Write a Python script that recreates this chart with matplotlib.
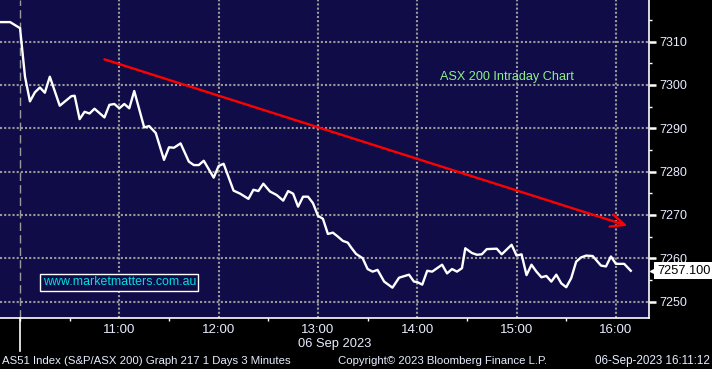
import numpy as np
import matplotlib.pyplot as plt
import matplotlib.transforms as mtransforms
from matplotlib.ticker import MultipleLocator

plt.rcParams['font.family'] = ['Liberation Sans', 'DejaVu Sans']

# AS51 intraday, 3 minute bars: minutes after the 10:00 open and last price
mins = [-12, -6, 0, 3, 6, 9, 12, 15, 18, 24, 31, 33, 36, 39, 42, 45, 51, 54, 57, 60,
        63, 66, 69, 75, 78, 82, 87, 90, 93, 97, 102, 105, 108, 111, 117, 120, 123,
        129, 133, 138, 141, 144, 147, 151, 155, 159, 162, 165, 168, 171, 174, 177,
        180, 183, 186, 189, 192, 195, 198, 200, 203, 207, 210, 213, 216, 220, 225,
        229, 235, 238, 240, 243, 246, 249, 255, 258, 261, 264, 267, 269, 273, 276,
        279, 282, 288, 291, 297, 300, 303, 306, 309, 312, 315, 318, 321, 324, 327,
        330, 333, 336, 339, 342, 346, 351, 354, 357, 360, 365, 369]
price = [7314.5, 7314.5, 7313.1, 7301.9, 7296.2, 7298.3, 7299.4, 7298.2, 7301.9, 7295.2,
         7297.4, 7297.5, 7292.1, 7293.8, 7293.4, 7294.5, 7292.5, 7295.4, 7295.6, 7294.6,
         7295.6, 7294.6, 7298.6, 7290.2, 7290.5, 7288.9, 7282.7, 7285.6, 7285.5, 7286.5,
         7282.3, 7281.5, 7281.5, 7282.5, 7278.6, 7281.3, 7281.8, 7275.6, 7274.9, 7273.7,
         7275.8, 7275.5, 7277.2, 7275.4, 7274.6, 7273.3, 7275.5, 7274.9, 7271.9, 7274.2,
         7274.2, 7272.7, 7269.8, 7269.1, 7265.6, 7265.9, 7265.0, 7264.0, 7263.6, 7262.5,
         7261.0, 7260.0, 7257.5, 7256.9, 7257.3, 7254.6, 7253.2, 7255.5, 7256.2, 7254.6,
         7254.5, 7253.9, 7257.1, 7256.9, 7258.5, 7256.5, 7257.5, 7256.9, 7257.7, 7262.3,
         7261.2, 7260.8, 7260.9, 7262.1, 7262.2, 7260.9, 7263.1, 7260.6, 7260.9, 7256.1,
         7258.5, 7256.9, 7255.6, 7255.9, 7254.6, 7256.2, 7254.2, 7253.3, 7255.4, 7259.2,
         7260.2, 7260.6, 7260.5, 7258.3, 7258.1, 7260.4, 7258.7, 7258.7, 7257.1]
last_price = 7257.1

hour_pos = [60, 120, 180, 240, 300, 360]
hour_labels = ['11:00', '12:00', '13:00', '14:00', '15:00', '16:00']
y_ticks = [7250, 7260, 7270, 7280, 7290, 7300, 7310]

trend_start = (51, 7305.9)
trend_end = (367, 7267.5)

bg = '#100c48'
txt = '#e8ecff'
grid_c = '#9a9a9a'

fig = plt.figure(figsize=(7.12, 3.69), dpi=100, facecolor='black')
ax = fig.add_axes([0, 51/369, 649/712, 318/369])
ax.set_facecolor(bg)
ax.set_xlim(-12.1, 380)
ax.set_ylim(7246.2, 7319.6)

# grid
ax.set_axisbelow(True)
ax.set_xticks(hour_pos)
ax.set_xticklabels(hour_labels)
ax.xaxis.set_minor_locator(MultipleLocator(30))
ax.set_yticks(y_ticks)
ax.yaxis.set_minor_locator(MultipleLocator(5))
ax.grid(True, which='major', color=grid_c, ls=(0, (1, 1)), lw=1.5)

ax.yaxis.tick_right()
ax.tick_params(axis='y', which='major', length=5, width=1.8, color='white',
               labelcolor=txt, labelsize=9, pad=2.2)
ax.tick_params(axis='y', which='minor', length=2.5, width=1, color='white')
ax.tick_params(axis='x', which='major', length=0, labelcolor=txt, labelsize=9.5, pad=4)
ax.tick_params(axis='x', which='minor', length=2.4, width=1, color='white')

for s in ['left', 'top']:
    ax.spines[s].set_visible(False)
for s in ['bottom', 'right']:
    ax.spines[s].set_color('white')
    ax.spines[s].set_linewidth(1.2)

# day separator at open
ax.axvline(0, color=grid_c, ls=(0, (6, 3)), lw=1)
trans = mtransforms.blended_transform_factory(ax.transData, ax.transAxes)
ax.plot([0, 0], [0, -33/318], transform=trans, color='white', lw=1.2, clip_on=False)

# price line
ax.plot(mins, price, color='white', lw=1.7, zorder=3)

# trend arrow
ax.annotate('', xy=trend_end, xytext=trend_start,
            arrowprops=dict(arrowstyle='->,head_length=1.0,head_width=0.45',
                            color='#ff0000', lw=1.7, shrinkA=0, shrinkB=0,
                            mutation_scale=10), zorder=4)

ax.text(254, 7301.9, 'ASX 200 Intraday Chart', color='#8cf08c', fontsize=9.1,
        ha='left', va='center')
ax.text(60, 7254.4, 'www.marketmatters.com.au', color='#00e0e0', fontsize=8.9,
        ha='center', va='center',
        bbox=dict(boxstyle='square,pad=0.2', fc=bg, ec='white', lw=1))

# last price tag
trans_y = mtransforms.blended_transform_factory(ax.transAxes, ax.transData)
ax.plot([1.0123], [last_price], marker='<', ms=10, color='white', transform=trans_y,
        clip_on=False, zorder=5)
ax.text(1.0123, last_price, '%.3f' % last_price, transform=trans_y, color='black',
        fontsize=9.2, ha='left', va='center', zorder=6, clip_on=False,
        bbox=dict(boxstyle='square,pad=0.2', fc='white', ec='none'))

# date under the axis
ax.text(190, -26/318, '06 Sep 2023', transform=trans, color=txt, fontsize=9.3,
        ha='center', va='center')

# footer
fy = 8/369
fig.text(2/712, fy, 'AS51 Index (S&P/ASX 200) Graph 217 1 Days 3 Minutes', color=txt,
         fontsize=8.2, va='center', ha='left')
fig.text(338/712, fy, 'Copyright\u00a9 2023 Bloomberg Finance L.P.', color=txt,
         fontsize=8.2, va='center', ha='left')
fig.text(710/712, fy, '06-Sep-2023 16:11:12', color=txt, fontsize=8.4,
         va='center', ha='right')

fig.savefig('out.png', dpi=100, facecolor='black')
